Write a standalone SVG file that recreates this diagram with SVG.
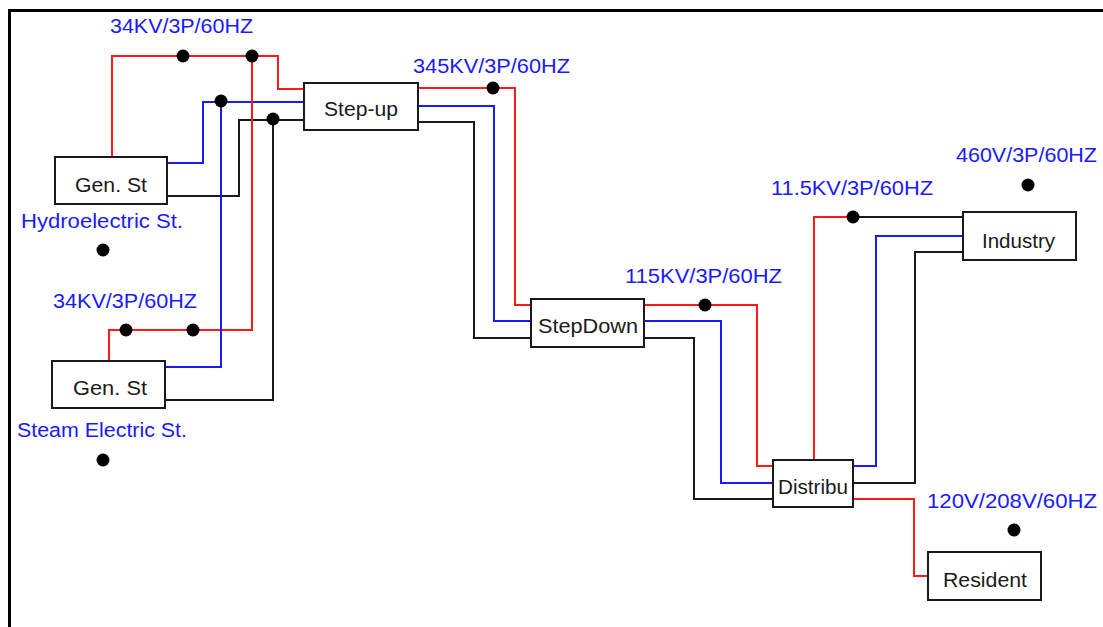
<svg xmlns="http://www.w3.org/2000/svg" width="1103" height="627" viewBox="0 0 1103 627">
<style>
.bg{fill:#fff}
.frame{fill:none;stroke:#000;stroke-width:3}
.box{fill:#fff;stroke:#1a1a1a;stroke-width:2}
.lbl{font-family:"Liberation Sans",Arial,sans-serif;font-size:20px;fill:#1a1a1a}
.vt{font-family:"Liberation Sans",Arial,sans-serif;font-size:20px;fill:#1a1aff}
.r{fill:none;stroke:#ff1a1a;stroke-width:2}
.b{fill:none;stroke:#1a1aff;stroke-width:2}
.k{fill:none;stroke:#1a1a1a;stroke-width:2}
.dot{fill:#000}
</style>
<rect class="bg" x="0" y="0" width="1103" height="627"/>
<path class="frame" d="M9.5,627 V10.5 H1103"/>
<g id="connectors">
<polyline class="r" points="112,157 112,56 278,56 278,89 304,89"/>
<polyline class="b" points="167,163 203,163 203,102 304,102"/>
<polyline class="k" points="167,196 239,196 239,120 304,120"/>
<polyline class="r" points="109,361 109,330 252,330 252,56"/>
<polyline class="b" points="165,367 221,367 221,102"/>
<polyline class="k" points="165,400 273,400 273,120"/>
<polyline class="r" points="418,88 515,88 515,305 531,305"/>
<polyline class="b" points="418,106 494,106 494,321 531,321"/>
<polyline class="k" points="418,122 474,122 474,338 531,338"/>
<polyline class="r" points="644,305 757,305 757,466 773,466"/>
<polyline class="b" points="644,321 721,321 721,483 773,483"/>
<polyline class="k" points="644,338 694,338 694,499 773,499"/>
<polyline class="r" points="814,460 814,217 853,217"/>
<polyline class="k" points="853,217 963,217"/>
<polyline class="b" points="853,466 876,466 876,236 963,236"/>
<polyline class="k" points="853,483 915,483 915,252 963,252"/>
<polyline class="r" points="853,499 914,499 914,576 928,576"/>
</g>
<g id="dots">
<circle class="dot" cx="183" cy="56" r="6.5"/>
<circle class="dot" cx="252" cy="56" r="6.5"/>
<circle class="dot" cx="221" cy="101" r="6.5"/>
<circle class="dot" cx="273" cy="119" r="6.5"/>
<circle class="dot" cx="126" cy="330" r="6.5"/>
<circle class="dot" cx="193" cy="330" r="6.5"/>
<circle class="dot" cx="493" cy="88" r="6.5"/>
<circle class="dot" cx="705" cy="305" r="6.5"/>
<circle class="dot" cx="853" cy="217" r="6.5"/>
<circle class="dot" cx="103" cy="250" r="6.5"/>
<circle class="dot" cx="103" cy="460" r="6.5"/>
<circle class="dot" cx="1028" cy="185" r="6.5"/>
<circle class="dot" cx="1014" cy="530" r="6.5"/>
</g>
<g id="hydro-gen">
<rect class="box" x="55" y="157" width="112" height="47"/>
<text class="lbl" x="75" y="192" textLength="72" lengthAdjust="spacingAndGlyphs">Gen. St</text>
</g>
<g id="steam-gen">
<rect class="box" x="52" y="361" width="113" height="47"/>
<text class="lbl" x="73" y="395" textLength="74" lengthAdjust="spacingAndGlyphs">Gen. St</text>
</g>
<g id="step-up">
<rect class="box" x="304" y="83" width="114" height="47"/>
<text class="lbl" x="324" y="116" textLength="74" lengthAdjust="spacingAndGlyphs">Step-up</text>
</g>
<g id="stepdown">
<rect class="box" x="531" y="299" width="113" height="48"/>
<text class="lbl" x="538" y="333" textLength="100" lengthAdjust="spacingAndGlyphs">StepDown</text>
</g>
<g id="distribu">
<rect class="box" x="773" y="460" width="80" height="47"/>
<text class="lbl" x="778" y="494" textLength="70" lengthAdjust="spacingAndGlyphs">Distribu</text>
</g>
<g id="industry">
<rect class="box" x="963" y="212" width="113" height="48"/>
<text class="lbl" x="982" y="248" textLength="73" lengthAdjust="spacingAndGlyphs">Industry</text>
</g>
<g id="resident">
<rect class="box" x="928" y="552" width="113" height="48"/>
<text class="lbl" x="943" y="587" textLength="84" lengthAdjust="spacingAndGlyphs">Resident</text>
</g>
<g id="labels">
<text class="vt" x="110" y="33" textLength="143" lengthAdjust="spacingAndGlyphs">34KV/3P/60HZ</text>
<text class="vt" x="21" y="228" textLength="162" lengthAdjust="spacingAndGlyphs">Hydroelectric St.</text>
<text class="vt" x="53" y="308" textLength="144" lengthAdjust="spacingAndGlyphs">34KV/3P/60HZ</text>
<text class="vt" x="17" y="437" textLength="170" lengthAdjust="spacingAndGlyphs">Steam Electric St.</text>
<text class="vt" x="413" y="73" textLength="157" lengthAdjust="spacingAndGlyphs">345KV/3P/60HZ</text>
<text class="vt" x="625" y="283" textLength="157" lengthAdjust="spacingAndGlyphs">115KV/3P/60HZ</text>
<text class="vt" x="956" y="162" textLength="141" lengthAdjust="spacingAndGlyphs">460V/3P/60HZ</text>
<text class="vt" x="771" y="195" textLength="162" lengthAdjust="spacingAndGlyphs">11.5KV/3P/60HZ</text>
<text class="vt" x="927" y="508" textLength="170" lengthAdjust="spacingAndGlyphs">120V/208V/60HZ</text>
</g>
</svg>
